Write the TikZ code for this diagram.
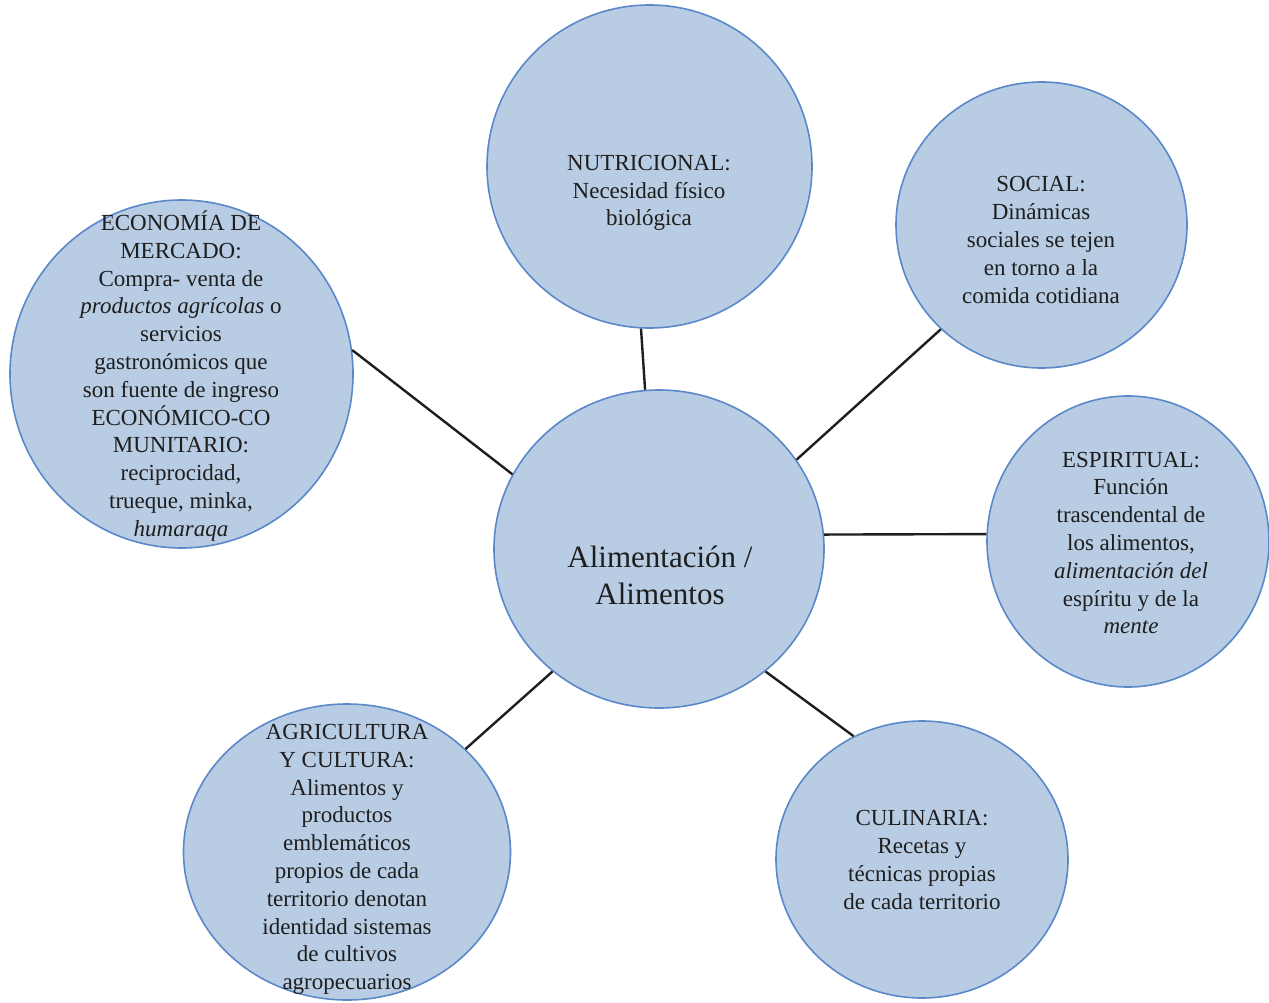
\documentclass[tikz,border=0pt]{standalone}
\usepackage{fontspec}
\setmainfont{Liberation Serif}
\usetikzlibrary{shapes.geometric}
\definecolor{circfill}{HTML}{B8CCE4}
\definecolor{circline}{HTML}{5A88C8}
\definecolor{txt}{HTML}{1E1E1E}
\begin{document}
\begin{tikzpicture}[x=1pt,y=-1pt,
  bubble/.style={ellipse, draw=circline, line width=1.6pt, fill=circfill, inner sep=0pt},
  lbl/.style={align=center, text=txt, font=\fontsize{23}{27.8}\selectfont, inner sep=0pt},
  conn/.style={draw=txt, line width=2.4pt}]
\useasboundingbox (0,0) rectangle (1269,1003);
% circles
\node[bubble, minimum width=330pt, minimum height=318pt] (c) at (659,549) {};
\node[bubble, minimum width=325pt, minimum height=323pt] (nut) at (649.5,166.5) {};
\node[bubble, minimum width=291pt, minimum height=286pt] (soc) at (1041.5,225) {};
\node[bubble, minimum width=343pt, minimum height=348pt] (eco) at (181.5,374) {};
\node[bubble, minimum width=282pt, minimum height=291pt] (esp) at (1128,541.5) {};
\node[bubble, minimum width=327pt, minimum height=296pt] (agr) at (347,852) {};
\node[bubble, minimum width=292pt, minimum height=277pt] (cul) at (922,859.5) {};
% connectors
\draw[conn] (nut.267.7) -- (c.95.7);
\draw[conn] (soc.226) -- (c.33);
\draw[conn] (eco.8) -- (c.153);
\draw[conn] (esp.177) -- (c.5.5);
\draw[conn] (cul.119) -- (c.311);
\draw[conn] (agr.41.3) -- (c.229);
% labels
\node[lbl, font=\fontsize{31}{37}\selectfont] (tc) at (660,575.5) {Alimentación /\\Alimentos};
\node[lbl] (tnut) at (649,193) {NUTRICIONAL:\\Necesidad físico\\biológica};
\node[lbl] (tsoc) at (1041,240) {SOCIAL:\\Dinámicas\\sociales se tejen\\en torno a la\\comida cotidiana};
\node[lbl] (teco) at (181,376) {ECONOMÍA DE\\MERCADO:\\Compra- venta de\\\textit{productos agrícolas} o\\servicios\\gastronómicos que\\son fuente de ingreso\\ECONÓMICO-CO\\MUNITARIO:\\reciprocidad,\\trueque, minka,\\\textit{humaraqa}};
\node[lbl] (tesp) at (1131,543) {ESPIRITUAL:\\Función\\trascendental de\\los alimentos,\\\textit{alimentación del}\\espíritu y de la\\\textit{mente}};
\node[lbl] (tagr) at (347,859.5) {AGRICULTURA\\Y CULTURA:\\Alimentos y\\productos\\emblemáticos\\propios de cada\\territorio denotan\\identidad sistemas\\de cultivos\\agropecuarios};
\node[lbl] (tcul) at (922,860) {CULINARIA:\\Recetas y\\técnicas propias\\de cada territorio};
\end{tikzpicture}
\end{document}
